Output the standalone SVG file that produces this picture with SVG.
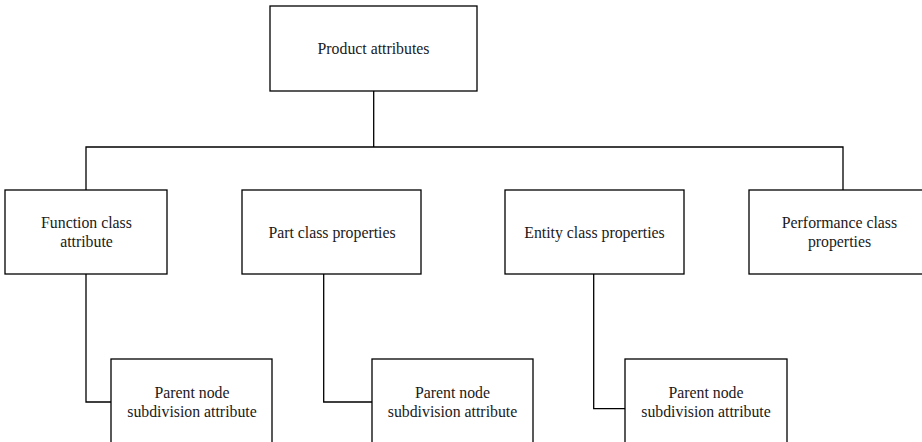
<svg xmlns="http://www.w3.org/2000/svg" width="922" height="442" viewBox="0 0 922 442">
<style>
.box{fill:#fff;stroke:#000;stroke-width:1.3}
.lbl{font-family:'Liberation Serif','DejaVu Serif','Times New Roman',serif;font-size:15.8px;fill:#1a1a1a;text-anchor:middle}
.con{fill:none;stroke:#000;stroke-width:1.3}
</style>
<rect width="922" height="442" fill="#fff"/>
<g id="connectors">
<path class="con" d="M373.7 91V147M86 190V147H843V190"/>
<path class="con" d="M86 274V402H111"/>
<path class="con" d="M323.7 274V402H372"/>
<path class="con" d="M593.7 274V408.7H625"/>
</g>
<g id="product-attributes">
<rect class="box" x="270" y="6" width="207" height="85"/>
<text class="lbl" x="373.5" y="54" font-family="Liberation Serif, serif">Product attributes</text>
</g>
<g id="function-class">
<rect class="box" x="5" y="190" width="162" height="84"/>
<text class="lbl" x="86.5" y="228.3" font-family="Liberation Serif, serif">Function class</text>
<text class="lbl" x="86.5" y="246.7" font-family="Liberation Serif, serif">attribute</text>
</g>
<g id="part-class">
<rect class="box" x="242" y="190" width="179" height="84"/>
<text class="lbl" x="332" y="238" font-family="Liberation Serif, serif">Part class properties</text>
</g>
<g id="entity-class">
<rect class="box" x="505" y="190" width="179" height="84"/>
<text class="lbl" x="594.5" y="238" font-family="Liberation Serif, serif">Entity class properties</text>
</g>
<g id="performance-class">
<rect class="box" x="749" y="190" width="181" height="84"/>
<text class="lbl" x="839.5" y="228.3" font-family="Liberation Serif, serif">Performance class</text>
<text class="lbl" x="839.5" y="246.7" font-family="Liberation Serif, serif">properties</text>
</g>
<g id="parent-node-1">
<rect class="box" x="111" y="359" width="161" height="87"/>
<text class="lbl" x="192" y="398" font-family="Liberation Serif, serif">Parent node</text>
<text class="lbl" x="192" y="416.6" font-family="Liberation Serif, serif">subdivision attribute</text>
</g>
<g id="parent-node-2">
<rect class="box" x="372" y="359" width="161" height="87"/>
<text class="lbl" x="452.5" y="398" font-family="Liberation Serif, serif">Parent node</text>
<text class="lbl" x="452.5" y="416.6" font-family="Liberation Serif, serif">subdivision attribute</text>
</g>
<g id="parent-node-3">
<rect class="box" x="625" y="359" width="162" height="87"/>
<text class="lbl" x="706" y="398" font-family="Liberation Serif, serif">Parent node</text>
<text class="lbl" x="706" y="416.6" font-family="Liberation Serif, serif">subdivision attribute</text>
</g>
</svg>
